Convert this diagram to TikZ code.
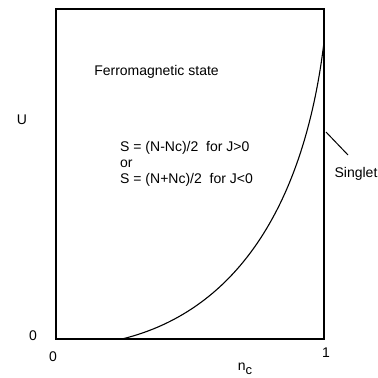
\documentclass[tikz,border=0pt]{standalone}
\usepackage{fontspec}
\setmainfont{Liberation Sans}
\usepackage{tikz}
\usetikzlibrary{positioning}

\begin{document}
\begin{tikzpicture}[x=1pt,y=1pt,yscale=-1,xscale=1,
    lbl/.style={inner sep=0pt, font=\fontsize{14}{16}\selectfont},
    frame/.style={line width=1.2pt}]
\useasboundingbox (0,0) rectangle (378,378);
%Shape: Rectangle [id:box]
\draw [frame]  (56,9) rectangle (324,339) ;
%Curve Lines [id:border]
\draw [line width=1.1pt]  (122,339) .. controls (240,310) and (305,200) .. (324,42) ;
%Straight Lines [id:leader]
\coordinate (lead) at (326,132) ;
\coordinate (leadend) at (348,155) ;
\draw [line width=1pt]  (lead) -- (leadend) ;
%Text nodes
\node [lbl] (ferro) at (156.5,72) {Ferromagnetic state};
\node [lbl, anchor=west, align=left] (spin) at (120,164) {S = (N-Nc)/2\ \ for J>0\\or\\S = (N+Nc)/2\ \ for J<0};
\node [lbl] (singlet) at (356,174) {Singlet};
\node [lbl] (uaxis) at (22,120) {U};
\node [lbl] (uzero) at (33,336) {0};
\node [lbl] (nzero) at (53,357) {0};
\node [lbl] (none) at (326,353) {1};
\node [lbl] (ncaxis) at (245,369) {n\raisebox{-4pt}{\fontsize{13}{13}\selectfont c}};
\end{tikzpicture}
\end{document}
